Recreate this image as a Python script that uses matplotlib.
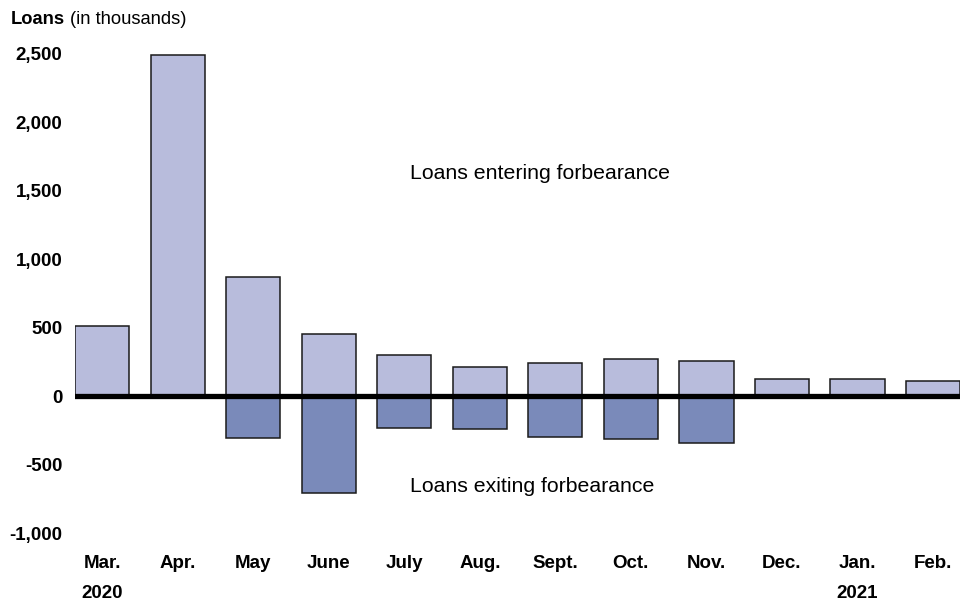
import numpy as np
import matplotlib.pyplot as plt

months = ["Mar.", "Apr.", "May", "June", "July", "Aug.", "Sept.", "Oct.", "Nov.", "Dec.", "Jan.", "Feb."]
entering = [510, 2490, 870, 453, 300, 212, 241, 268, 256, 124, 128, 110]
exiting = [0, 0, -307, -709, -234, -241, -300, -314, -344, 0, 0, 0]
years = {"Mar.": "2020", "Jan.": "2021"}
yticks = [-1000, -500, 0, 500, 1000, 1500, 2000, 2500]

plt.rcParams['font.family'] = ['Liberation Sans', 'DejaVu Sans']

fig = plt.figure(figsize=(9.62, 6.02), dpi=100)
ax = fig.add_axes([0.078, 0.1146, 0.920, 0.7957])

x = np.arange(len(months))
ax.bar(x, entering, width=0.72, color="#b8bcdc", edgecolor="#1a1a1a", linewidth=1.1, zorder=2)
ax.bar(x, exiting, width=0.72, color="#7a8aba", edgecolor="#1a1a1a", linewidth=1.1, zorder=2)
ax.axhline(0, color="black", linewidth=3.8, zorder=3)

ax.set_xlim(-0.36, len(months) - 0.64)
ax.set_ylim(-1000, 2500)
ax.set_yticks(yticks)
ax.set_yticklabels([f"{v:,}" for v in yticks], fontsize=13.5, fontweight="bold")
ax.set_xticks(x)
ax.set_xticklabels(months, fontsize=13.5, fontweight="bold")
ax.tick_params(length=0, axis="y", pad=9)
ax.tick_params(length=0, axis="x", pad=15.5)
for s in ax.spines.values():
    s.set_visible(False)

for i, m in enumerate(months):
    if m in years:
        ax.text(i, -0.126, years[m], transform=ax.get_xaxis_transform(),
                ha="center", va="center", fontsize=13.5, fontweight="bold")

ax.text(4.08, 1630, "Loans entering forbearance", fontsize=15.3, va="center", ha="left")
ax.text(4.08, -658, "Loans exiting forbearance", fontsize=15.3, va="center", ha="left")

fig.text(0.011, 0.967, "Loans", fontsize=13.2, fontweight="bold", va="center", ha="left")
fig.text(0.0728, 0.967, "(in thousands)", fontsize=13.2, va="center", ha="left")

fig.savefig("out.png", dpi=100)
